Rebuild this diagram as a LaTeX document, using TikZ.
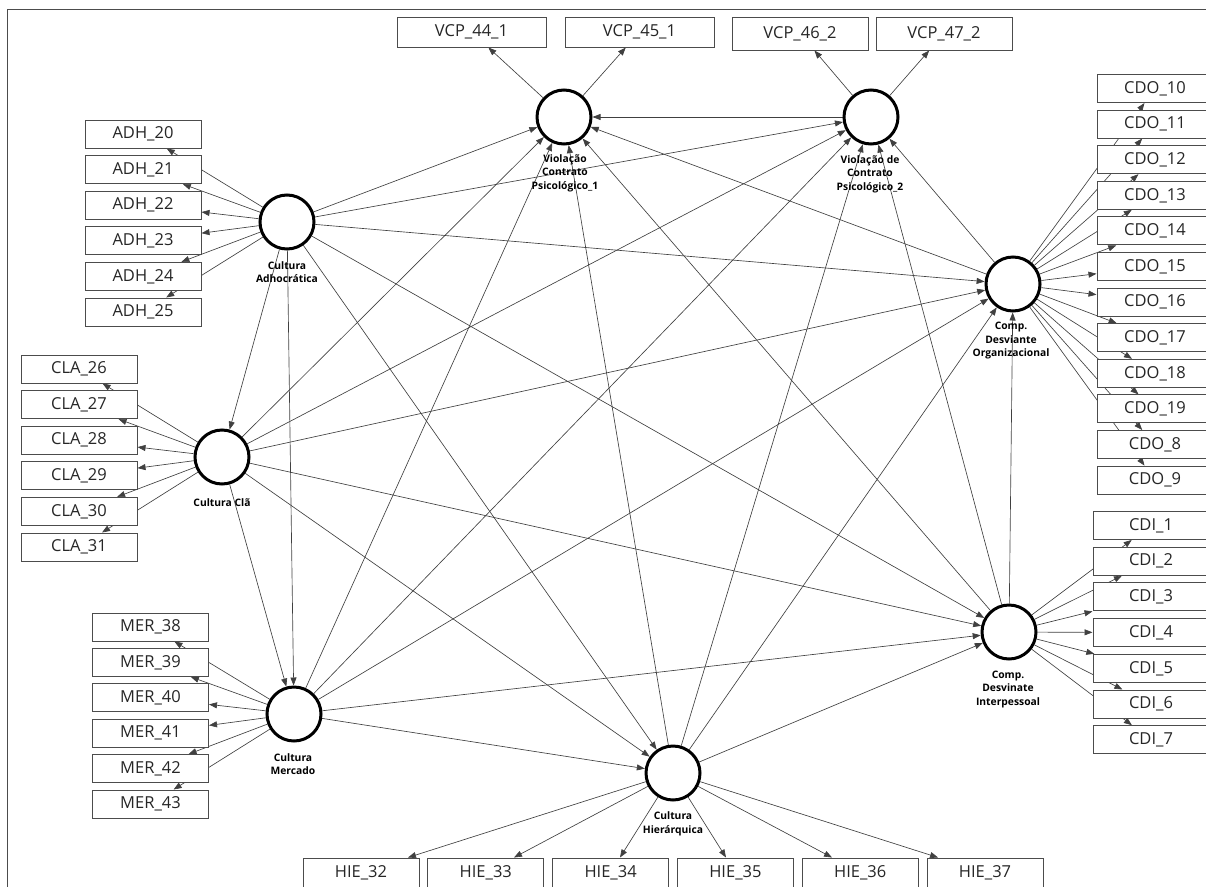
\documentclass[tikz,border=0pt]{standalone}
\usepackage{fontspec}
\setmainfont{Open Sans}
\usetikzlibrary{arrows.meta}
\pgfdeclarelayer{bg}
\pgfsetlayers{bg,main}
\begin{document}
\begin{tikzpicture}[x=1pt,y=-1pt,
  lv/.style={circle,draw=black,line width=3pt,fill=white,minimum size=54pt,inner sep=0pt},
  ind/.style={draw=black!70,line width=1pt,fill=white,minimum width=116pt,minimum height=28pt,
    inner sep=0pt,font=\fontsize{16.5}{19}\selectfont,text=black!85},
  vcpbox/.style={ind,minimum width=149pt,minimum height=30pt},
  vcpboxb/.style={ind,minimum width=136pt,minimum height=33pt},
  lvlabel/.style={align=center,font=\bfseries\fontsize{10.3}{13.5}\selectfont,inner sep=0pt},
  conn/.style={draw=black!75,line width=0.65pt,-{Triangle[length=8pt,width=6pt]}},
]
\useasboundingbox (0,0) rectangle (1206,886);
\clip (0,0) rectangle (1206,886);

% outer frame
\draw[black!70,line width=1pt] (7.5,900) -- (7.5,9.5) -- (1220,9.5);

% latent variables
\node[lv] (vcp1) at (564,117) {};
\node[lv] (vcp2) at (871,117) {};
\node[lv] (adh)  at (287,222) {};
\node[lv] (cla)  at (222,457) {};
\node[lv] (mer)  at (294,714) {};
\node[lv] (hie)  at (673,773) {};
\node[lv] (cdo)  at (1013,284) {};
\node[lv] (cdi)  at (1009,632) {};

% latent variable captions
\node[lvlabel] (lvcp1) at (565,173) {Violação\\Contrato\\Psicológico\_1};
\node[lvlabel] (lvcp2) at (870,174) {Violação de\\Contrato\\Psicológico\_2};
\node[lvlabel] (ladh)  at (287,272) {Cultura\\Adhocrática};
\node[lvlabel] (lcla)  at (222,503) {Cultura Clã};
\node[lvlabel] (lmer)  at (293,764) {Cultura\\Mercado};
\node[lvlabel] (lhie)  at (673,824) {Cultura\\Hierárquica};
\node[lvlabel] (lcdo)  at (1011,341) {Comp.\\Desviante\\Organizacional};
\node[lvlabel] (lcdi)  at (1008,689) {Comp.\\Desvinate\\Interpessoal};

% indicators
\node[vcpbox]  (v44) at (471.5,32) {VCP\_44\_1};
\node[vcpbox]  (v45) at (639.5,32) {VCP\_45\_1};
\node[vcpboxb] (v46) at (800,33.5) {VCP\_46\_2};
\node[vcpboxb] (v47) at (944,33.5) {VCP\_47\_2};

\foreach \n [count=\i] in {20,...,25}
  \node[ind] (adh\n) at (143,{134+35.6*(\i-1)}) {ADH\_\n};
\foreach \n [count=\i] in {26,...,31}
  \node[ind] (cla\n) at (79,{369+35.6*(\i-1)}) {CLA\_\n};
\foreach \n [count=\i] in {38,...,43}
  \node[ind] (mer\n) at (150.5,{627+35.4*(\i-1)}) {MER\_\n};
\foreach \n [count=\i] in {32,...,37}
  \node[ind,minimum height=29pt] (hie\n) at ({361+124.8*(\i-1)},872.5) {HIE\_\n};
\foreach \n [count=\i] in {10,11,12,13,14,15,16,17,18,19,8,9}
  \node[ind] (cdo\n) at (1155,{88.5+35.6*(\i-1)}) {CDO\_\n};
\foreach \n [count=\i] in {1,...,7}
  \node[ind] (cdi\n) at (1151,{525.5+35.7*(\i-1)}) {CDI\_\n};

\begin{pgfonlayer}{bg}
  % measurement arrows
  \draw[conn] (vcp1) -- (v44);
  \draw[conn] (vcp1) -- (v45);
  \draw[conn] (vcp2) -- (v46);
  \draw[conn] (vcp2) -- (v47);
  \foreach \n in {20,...,25} \draw[conn] (adh) -- (adh\n);
  \foreach \n in {26,...,31} \draw[conn] (cla) -- (cla\n);
  \foreach \n in {38,...,43} \draw[conn] (mer) -- (mer\n);
  \foreach \n in {32,...,37} \draw[conn] (hie) -- (hie\n);
  \foreach \n in {10,11,12,13,14,15,16,17,18,19,8,9} \draw[conn] (cdo) -- (cdo\n);
  \foreach \n in {1,...,7} \draw[conn] (cdi) -- (cdi\n);

  % structural paths
  \draw[conn] (vcp2) -- (vcp1);
  \foreach \t in {vcp1,vcp2,cdo,cdi,cla,mer,hie} \draw[conn] (adh) -- (\t);
  \foreach \t in {vcp1,vcp2,cdo,cdi,mer,hie} \draw[conn] (cla) -- (\t);
  \foreach \t in {vcp1,vcp2,cdo,cdi,hie} \draw[conn] (mer) -- (\t);
  \foreach \t in {vcp1,vcp2,cdo,cdi} \draw[conn] (hie) -- (\t);
  \foreach \t in {vcp1,vcp2} \draw[conn] (cdo) -- (\t);
  \foreach \t in {vcp1,vcp2,cdo} \draw[conn] (cdi) -- (\t);
\end{pgfonlayer}
\end{tikzpicture}
\end{document}
